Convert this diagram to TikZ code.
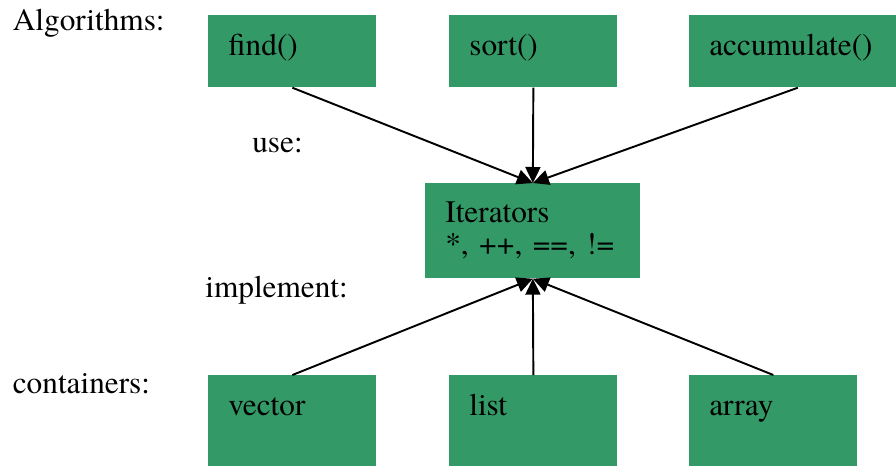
\documentclass[tikz,border=0pt]{standalone}
\usepackage{xcolor}
\usepackage{tikz}
\usetikzlibrary{
    positioning,
    arrows.meta,
}
\usepackage{fontspec}
\setmainfont{texgyretermes}[Extension=.otf, UprightFont=*-regular]
\definecolor{boxgreen}{RGB}{51,153,102}
\tikzset{
    % Box styles
    box/.style={rectangle, fill=boxgreen, anchor=north west, align=left,
                inner xsep=0.4cm, inner ysep=0pt, text width=2.56cm,
                text height=0.8cm, font=\fontsize{17.8}{18.2}\selectfont},
    top box/.style={box, text depth=0.64cm},
    bottom box/.style={box, text depth=1.02cm},
    % Arrow styles
    arrow/.style={-{Triangle[length=0.32cm, width=0.3cm]}, line width=1.1pt},
    % Annotation styles
    annot/.style={anchor=base west, inner sep=0pt, font=\fontsize{17.8}{18.2}\selectfont},
}

\begin{document}
\begin{tikzpicture}
    \useasboundingbox (0,0) rectangle (17.92,-9.34);

    % Algorithms
    \node[top box] (find) at (4.16, -0.3) {find()};
    \node[top box] (sort) at (8.98, -0.3) {sort()};
    \node[top box, text width=3.34cm] (accum) at (13.78, -0.3) {accumulate()};

    % Iterators
    \node[box, text width=3.5cm, text height=0.78cm, text depth=1.12cm] (iter) at (8.5, -3.66)
        {Iterators\\{}*, ++, ==, !=};

    % Containers
    \node[bottom box] (vector) at (4.16, -7.5) {vector};
    \node[bottom box] (list) at (8.98, -7.5) {list};
    \node[bottom box] (array) at (13.78, -7.5) {array};

    % Arrows
    \draw[arrow] (find.south) -- (iter.north);
    \draw[arrow] (sort.south) -- (iter.north);
    \draw[arrow] ([xshift=0.1cm]accum.south) -- (iter.north);
    \draw[arrow] (vector.north) -- (iter.south);
    \draw[arrow] (list.north) -- (iter.south);
    \draw[arrow] (array.north) -- (iter.south);

    % Labels
    \node[annot] (alglabel) at (0.25, -0.6) {Algorithms:};
    \node[annot] (uselabel) at (5.04, -3.04) {use:};
    \node[annot] (implabel) at (4.1, -5.94) {implement:};
    \node[annot] (contlabel) at (0.25, -7.86) {containers:};
\end{tikzpicture}
\end{document}
